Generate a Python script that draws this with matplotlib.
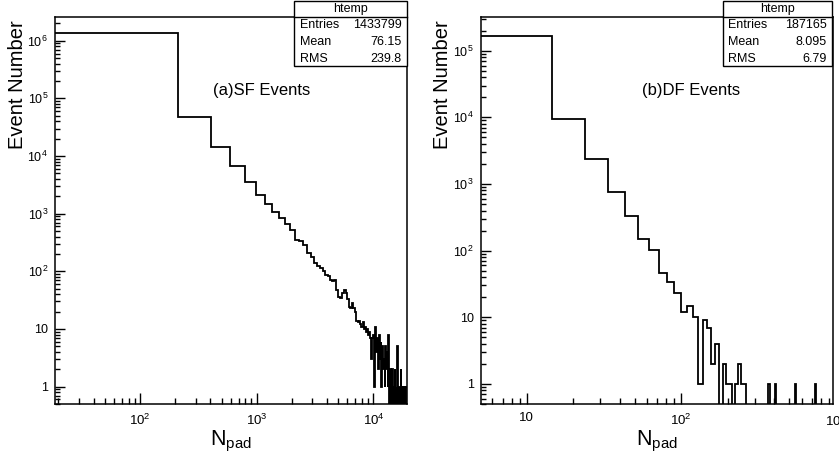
import numpy as np
import matplotlib
matplotlib.use('Agg')
import matplotlib.pyplot as plt
from matplotlib.ticker import LogLocator, FuncFormatter, NullFormatter
from matplotlib.patches import Rectangle
from matplotlib.lines import Line2D
import matplotlib.transforms as mtransforms

plt.rcParams['font.family'] = 'Liberation Sans'

# ---- data ----
n_bins = 100
sf_low, sf_high = 18.7, 19218.7
df_low, df_high = 5.05, 953.05

sf_counts = [1340000, 48000, 14500, 6700, 3600, 2150, 1500, 1060, 850, 655,
             520, 350, 330, 285, 210, 180, 140, 125, 115, 100,
             88, 82, 72, 68, 72, 48, 36, 34, 42, 48,
             42, 33, 24, 23, 28, 23, 20, 14, 13, 14,
             12, 11, 13, 10, 11, 9, 10, 8, 9, 7,
             3, 7, 8, 1, 11, 4, 7, 2, 8, 3,
             6, 1, 5, 2, 3, 1, 5, 2, 4, 1,
             8, 0, 2, 1, 0, 2, 1, 0, 1, 2,
             0, 1, 0, 5, 1, 0, 1, 1, 0, 2,
             1, 0, 1, 0, 1, 0, 1, 1, 0, 1]

df_counts = [168000, 9440, 2350, 770, 335, 148, 101, 46, 34, 23,
             12, 15, 10, 1, 9, 7, 2, 4, 0, 2,
             1, 1, 0, 1, 2, 1, 1, 0, 0, 0,
             0, 0, 0, 0, 0, 0, 0, 0, 1, 0,
             0, 0, 1, 0, 0, 0, 0, 0, 0, 0,
             0, 0, 0, 0, 0, 0, 0, 1, 0, 0,
             0, 0, 0, 0, 0, 0, 0, 0, 0, 0,
             0, 0, 0, 0, 0, 0, 0, 1, 0, 0,
             0, 0, 0, 0, 0, 0, 0, 0, 0, 0,
             0, 0, 0, 0, 0, 0, 0, 0, 0, 0]

sf_stats = ['1433799', '76.15', '239.8']
df_stats = ['187165', '8.095', '6.79']

W, H = 839, 459


def fx(px):
    return px / W


def fy(py):
    return 1 - py / H


def root_fmt(v, pos):
    n = int(round(np.log10(v)))
    if n == 0:
        return '1'
    if n == 1:
        return '10'
    return r'$\mathregular{10^{%d}}$' % n


def setup_axis(ax, xlim, ylim):
    ax.set_xscale('log')
    ax.set_yscale('log')
    ax.set_xlim(xlim)
    ax.set_ylim(ylim)
    for ax_ in (ax.xaxis, ax.yaxis):
        ax_.set_major_locator(LogLocator(base=10, numticks=20))
        ax_.set_minor_locator(LogLocator(base=10, subs=np.arange(2, 10), numticks=100))
        ax_.set_major_formatter(FuncFormatter(root_fmt))
        ax_.set_minor_formatter(NullFormatter())
    ax.tick_params(axis='x', which='major', direction='in', length=8, width=1, pad=6, labelsize=9.5)
    ax.tick_params(axis='x', which='minor', direction='in', length=4.3, width=1)
    ax.tick_params(axis='y', which='major', direction='in', length=7, width=1, pad=5, labelsize=9)
    ax.tick_params(axis='y', which='minor', direction='in', length=3.6, width=1)
    for s in ax.spines.values():
        s.set_linewidth(1.1)


def stat_box(x0, x1, labx, valx, stats):
    top, head, bot = 1, 16.7, 65.7
    fig.add_artist(Rectangle((fx(x0), fy(bot)), fx(x1) - fx(x0), fy(top) - fy(bot),
                             transform=fig.transFigure, facecolor='white',
                             edgecolor='black', lw=1.0, zorder=5))
    fig.add_artist(Line2D([fx(x0), fx(x1)], [fy(head), fy(head)],
                          transform=fig.transFigure, color='black', lw=1.0, zorder=6))
    fig.text(fx((x0 + x1) / 2), fy(9), 'htemp', ha='center', va='center', fontsize=9, zorder=7)
    for name, val, yy in zip(['Entries', 'Mean', 'RMS'], stats, [25, 41.7, 58.5]):
        fig.text(fx(labx), fy(yy), name, ha='left', va='center', fontsize=9, zorder=7)
        fig.text(fx(valx), fy(yy), val, ha='right', va='center', fontsize=9, zorder=7)


fig = plt.figure(figsize=(W / 100, H / 100), dpi=100)

# left panel
ax1 = fig.add_axes([fx(55), fy(404), fx(406.5) - fx(55), fy(17) - fy(404)])
sf_edges = np.linspace(sf_low, sf_high, n_bins + 1)
ax1.stairs(sf_counts, sf_edges, color='black', lw=1.3, baseline=None)
setup_axis(ax1, (sf_low, sf_high), (0.5, 2.58e6))
ax1.text(fx(213), fy(90), '(a)SF Events', transform=fig.transFigure,
         ha='left', va='center', fontsize=12)

# right panel
ax2 = fig.add_axes([fx(480.7), fy(404), fx(832.7) - fx(480.7), fy(16.7) - fy(404)])
df_edges = np.linspace(df_low, df_high, n_bins + 1)
ax2.stairs(df_counts, df_edges, color='black', lw=1.3, baseline=None)
setup_axis(ax2, (df_low, df_high), (0.5, 3.24e5))
ax2.text(fx(641.7), fy(90), '(b)DF Events', transform=fig.transFigure,
         ha='left', va='center', fontsize=12)
# ROOT also prints the 10^3 label right at the frame edge
trans = mtransforms.blended_transform_factory(ax2.transData, fig.transFigure)
ax2.text(1000, fy(421.7), r'$\mathregular{10^{3}}$', transform=trans,
         ha='center', va='center', fontsize=9.5, clip_on=False)

# axis titles
for xc, xl in [(18, 230.5), (443, 656.7)]:
    fig.text(fx(xc), fy(20), 'Event Number', rotation=90, ha='center', va='top', fontsize=14.5)
    fig.text(fx(xl), fy(445), r'N$\mathregular{_{pad}}$', ha='center', va='baseline', fontsize=15.5)

stat_box(294, 407.3, 300, 401.7, sf_stats)
stat_box(722.7, 831.7, 728.3, 826.7, df_stats)

fig.savefig('out.png', dpi=100)
